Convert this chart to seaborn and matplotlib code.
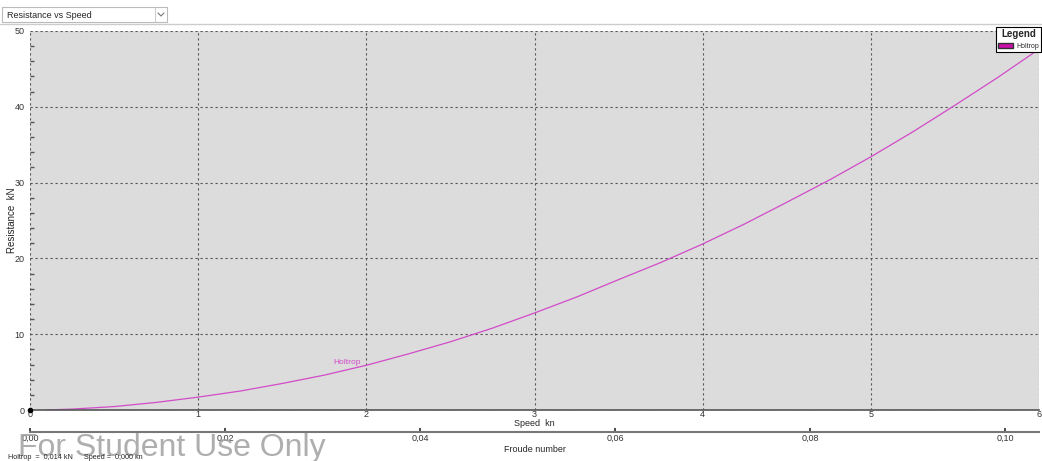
import numpy as np
import pandas as pd
import seaborn as sns
import matplotlib.pyplot as plt
from matplotlib.patches import Rectangle, Patch
from matplotlib.lines import Line2D

# data
speed = [0.1, 0.25, 0.5, 0.75, 1.0, 1.25, 1.5, 1.75, 2.0, 2.25, 2.5, 2.75, 3.0,
         3.25, 3.5, 3.75, 4.0, 4.25, 4.5, 4.75, 5.0, 5.25, 5.5, 5.75, 6.0]
resistance = [0.01, 0.12, 0.45, 1.0, 1.7, 2.5, 3.5, 4.6, 5.9, 7.4, 9.0, 10.8, 12.8,
              14.9, 17.2, 19.45, 21.9, 24.55, 27.4, 30.3, 33.4, 36.7, 40.2, 43.8, 47.6]
speed_ticks = [0, 1, 2, 3, 4, 5, 6]
res_ticks = [0, 10, 20, 30, 40, 50]
froude_ticks = [0.00, 0.02, 0.04, 0.06, 0.08, 0.10]
froude_per_kn = 0.1 / 5.8

df = pd.DataFrame({"Speed": speed, "Resistance": resistance})

sns.set_theme(style="white")
plt.rcParams["font.family"] = ["Liberation Sans", "DejaVu Sans"]

W, H = 1042, 461
fig = plt.figure(figsize=(W / 100, H / 100), dpi=100)
ax = fig.add_axes([30 / W, 1 - 410 / H, (1039 - 30) / W, (410 - 31) / H])
ax.set_facecolor("#dcdcdc")

line_col = "#d24bc8"
sns.lineplot(data=df, x="Speed", y="Resistance", ax=ax, color=line_col, lw=0.9)
ax.plot([0], [0], "o", color="black", ms=3, clip_on=False, zorder=5)

ax.set_xlim(0, 6)
ax.set_ylim(0, 50)
ax.set_xticks(speed_ticks)
ax.set_yticks(res_ticks)
ax.set_yticks(np.arange(0, 51, 2), minor=True)
ax.set_xticklabels([str(v) for v in speed_ticks], fontsize=6.5)
ax.set_yticklabels([str(v) for v in res_ticks], fontsize=6.5)
ax.tick_params(axis="x", direction="in", length=4, pad=0, colors="#333333")
ax.tick_params(axis="y", which="major", direction="out", length=3, pad=1, colors="#333333")
ax.tick_params(axis="y", which="minor", direction="in", length=3, color="#555555", left=True)
ax.grid(True, which="major", color="#555555", linestyle=(0, (2, 2.5)), linewidth=0.8)

for s in ["top", "right", "left"]:
    ax.spines[s].set_visible(False)
ax.spines["bottom"].set_color("#555555")
ax.spines["bottom"].set_linewidth(1.2)

ax.set_xlabel("Speed  kn", fontsize=6.5, labelpad=0)
ax.set_ylabel("")
fig.text(12 / W, 1 - 220 / H, "Resistance  kN", fontsize=7, rotation=90,
         ha="center", va="center", color="#222222")

# Froude number axis
sec = ax.secondary_xaxis(-22 / 379, functions=(lambda v: v * froude_per_kn,
                                                lambda f: f / froude_per_kn))
sec.set_xticks(froude_ticks)
sec.set_xticklabels([f"{v:.2f}".replace(".", ",") for v in froude_ticks], fontsize=6.5)
sec.tick_params(direction="in", length=3, pad=1, colors="#333333")
sec.spines["bottom"].set_color("#777777")
sec.spines["bottom"].set_linewidth(1.5)
sec.set_xlabel("Froude number", fontsize=6.5, labelpad=2)

# curve label
ax.text(1.97, 5.8, "Holtrop", color=line_col, fontsize=6, ha="right", va="bottom")

# legend
leg = ax.legend(handles=[Patch(facecolor="#cc11aa", edgecolor="#333333", label="Holtrop")],
                title="Legend", loc="upper right", bbox_to_anchor=(1041 / W, 1 - 27 / H),
                bbox_transform=fig.transFigure, fontsize=5, frameon=True, fancybox=False,
                handlelength=2.2, handleheight=0.9, handletextpad=0.4, borderpad=0.3,
                borderaxespad=0)
leg.get_title().set_fontsize(7)
leg.get_title().set_fontweight("bold")
leg.get_frame().set_edgecolor("black")
leg.get_frame().set_linewidth(0.8)
leg.get_frame().set_facecolor("white")
leg.get_frame().set_alpha(1)

# header dropdown and separator
def px(x, y):
    return x / W, 1 - y / H

fig.add_artist(Line2D([0, 1], [1 - 24 / H] * 2, color="#cccccc", lw=1))
fig.add_artist(Rectangle(px(2, 22), 165 / W, 15 / H, facecolor="white",
                         edgecolor="#bbbbbb", lw=0.8))
fig.add_artist(Line2D([155 / W] * 2, [1 - 21 / H, 1 - 8 / H], color="#cccccc", lw=0.8))
fig.add_artist(Line2D([158 / W, 161 / W, 164 / W], [1 - 13 / H, 1 - 16 / H, 1 - 13 / H],
                      color="#777777", lw=0.8))
fig.text(7 / W, 1 - 15 / H, "Resistance vs Speed", fontsize=6.5, va="center", ha="left")

# bottom status texts
fig.text(18 / W, 1 - 456 / H, "For Student Use Only", fontsize=23, color="#a0a0a0",
         alpha=0.85, va="baseline", ha="left")
fig.text(8 / W, 1 - 459 / H, "Holtrop  =  0,014 kN", fontsize=5.2,
         va="baseline", ha="left")
fig.text(84 / W, 1 - 459 / H, "Speed =  0,000 kn", fontsize=5.2,
         va="baseline", ha="left")

fig.savefig("out.png", dpi=100)
